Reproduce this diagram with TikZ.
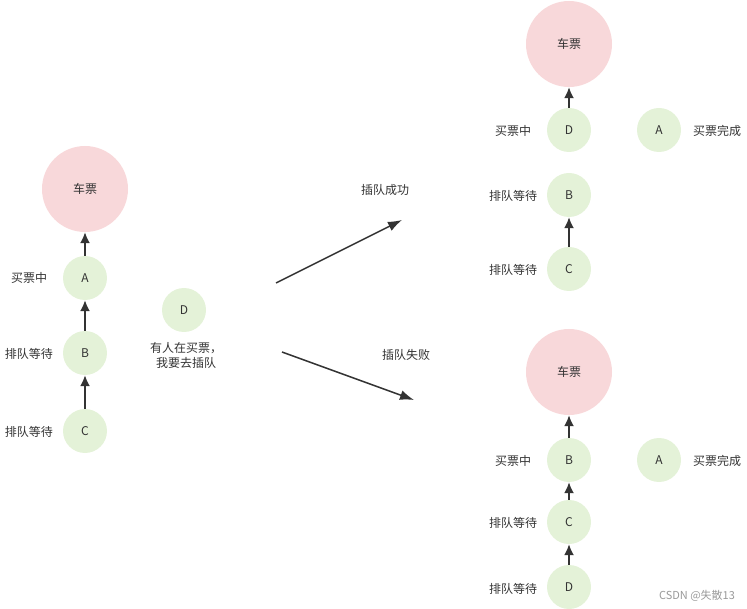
\documentclass[tikz,border=0pt]{standalone}
\usepackage{fontspec}
\setmainfont{Noto Sans CJK SC}
\usetikzlibrary{arrows.meta}
\definecolor{pinkc}{HTML}{F8D8DA}
\definecolor{greenc}{HTML}{E4F2D8}
\definecolor{txt}{HTML}{333333}
\tikzset{
 big/.style={circle,fill=pinkc,minimum size=86pt,inner sep=0pt,font=\fontsize{12}{14}\selectfont,text=txt},
 small/.style={circle,fill=greenc,minimum size=44pt,inner sep=0pt,font=\fontsize{12}{14}\selectfont,text=txt},
 lbl/.style={font=\fontsize{12}{15}\selectfont,text=txt,align=center},
 arr/.style={-{Latex[length=11pt,width=10pt]},line width=1.8pt,draw=txt},
 bigarr/.style={-{Latex[length=14pt,width=10pt]},line width=1.5pt,draw=txt}
}
\begin{document}
\begin{tikzpicture}[x=1pt,y=-1pt]
\useasboundingbox (0,0) rectangle (747,609);
% left
\node[big] (L0) at (85,189) {车票};
\node[small] (LA) at (85,278) {A};
\node[small] (LB) at (85,353) {B};
\node[small] (LC) at (85,431) {C};
\node[lbl] (lla) at (29,278) {买票中};
\node[lbl] (llb) at (29,354) {排队等待};
\node[lbl] (llc) at (29,432) {排队等待};
\draw[arr] (LA) -- (L0);
\draw[arr] (LB) -- (LA);
\draw[arr] (LC) -- (LB);
\node[small] (LD) at (184,310) {D};
\node[lbl] (lld) at (186,355) {有人在买票，\\我要去插队};
% middle arrows
\coordinate (m1s) at (276,283); \coordinate (m1e) at (402,220);
\coordinate (m2s) at (282,352); \coordinate (m2e) at (414,400);
\draw[bigarr] (m1s) -- (m1e);
\draw[bigarr] (m2s) -- (m2e);
\node[lbl] (ok) at (385,190) {插队成功};
\node[lbl] (fail) at (406,355) {插队失败};
% top right
\node[big] (T0) at (569,44) {车票};
\node[small] (TD) at (569,130) {D};
\node[small] (TA) at (659,130) {A};
\node[small] (TB) at (569,195) {B};
\node[small] (TC) at (569,269) {C};
\node[lbl] (tld) at (513,131) {买票中};
\node[lbl] (tla) at (717,131) {买票完成};
\node[lbl] (tlb) at (513,196) {排队等待};
\node[lbl] (tlc) at (513,270) {排队等待};
\draw[arr] (TD) -- (T0);
\draw[arr] (TC) -- (TB);
% bottom right
\node[big] (B0) at (569,372) {车票};
\node[small] (BB) at (569,460) {B};
\node[small] (BA) at (659,460) {A};
\node[small] (BC) at (569,522) {C};
\node[small] (BD) at (569,587) {D};
\node[lbl] (blb) at (513,461) {买票中};
\node[lbl] (bla) at (717,461) {买票完成};
\node[lbl] (blc) at (513,523) {排队等待};
\node[lbl] (bld) at (513,589) {排队等待};
\draw[arr] (BB) -- (B0);
\draw[arr] (BC) -- (BB);
\draw[arr] (BD) -- (BC);
\node[font=\fontsize{11}{13}\selectfont,text=gray!80] (wm) at (697,596) {CSDN @失散13};
\end{tikzpicture}
\end{document}
